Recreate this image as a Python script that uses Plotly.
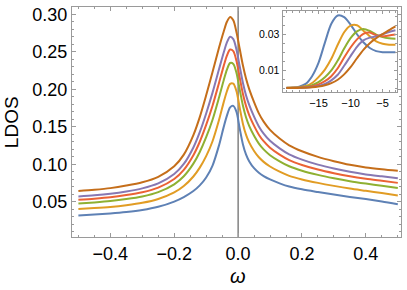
import plotly.graph_objects as go

# ---------------- data ----------------
omega = [-0.5, -0.45, -0.4, -0.35, -0.3, -0.25, -0.2, -0.17, -0.14, -0.12, -0.1, -0.08,
         -0.06, -0.045, -0.035, -0.025, -0.015, -0.005, 0.005, 0.015, 0.025, 0.035, 0.05,
         0.065, 0.08, 0.1, 0.13, 0.16, 0.2, 0.25, 0.3, 0.35, 0.4, 0.45, 0.5]

ldos_1 = [0.0320, 0.0332, 0.0346, 0.0365, 0.0392, 0.0435, 0.0505, 0.0565, 0.0645, 0.0720,
          0.0825, 0.0985, 0.1250, 0.1500, 0.1650, 0.1760, 0.1780, 0.1700, 0.1480, 0.1270,
          0.1130, 0.1040, 0.0950, 0.0890, 0.0845, 0.0800, 0.0748, 0.0705, 0.0668, 0.0632,
          0.0598, 0.0567, 0.0538, 0.0506, 0.0469]
ldos_2 = [0.0405, 0.0418, 0.0434, 0.0457, 0.0488, 0.0539, 0.0627, 0.0712, 0.0839, 0.0957,
          0.1110, 0.1309, 0.1588, 0.1830, 0.1975, 0.2073, 0.2076, 0.1976, 0.1756, 0.1543,
          0.1393, 0.1290, 0.1179, 0.1095, 0.1034, 0.0972, 0.0903, 0.0848, 0.0800, 0.0754,
          0.0714, 0.0678, 0.0648, 0.0618, 0.0585]
ldos_3 = [0.0479, 0.0494, 0.0512, 0.0538, 0.0573, 0.0631, 0.0735, 0.0842, 0.1010, 0.1166,
          0.1362, 0.1595, 0.1887, 0.2122, 0.2263, 0.2351, 0.2339, 0.2219, 0.1999, 0.1785,
          0.1625, 0.1510, 0.1381, 0.1277, 0.1200, 0.1123, 0.1041, 0.0975, 0.0916, 0.0861,
          0.0816, 0.0777, 0.0745, 0.0716, 0.0687]
ldos_4 = [0.0528, 0.0543, 0.0562, 0.0591, 0.0629, 0.0691, 0.0806, 0.0927, 0.1122, 0.1302,
          0.1526, 0.1782, 0.2082, 0.2313, 0.2450, 0.2531, 0.2510, 0.2378, 0.2158, 0.1942,
          0.1776, 0.1654, 0.1513, 0.1396, 0.1309, 0.1222, 0.1130, 0.1057, 0.0993, 0.0932,
          0.0883, 0.0841, 0.0808, 0.0781, 0.0754]
ldos_5 = [0.0574, 0.0589, 0.0610, 0.0640, 0.0681, 0.0747, 0.0872, 0.1006, 0.1226, 0.1430,
          0.1679, 0.1956, 0.2264, 0.2491, 0.2625, 0.2700, 0.2669, 0.2527, 0.2307, 0.2089,
          0.1918, 0.1789, 0.1636, 0.1506, 0.1411, 0.1315, 0.1214, 0.1134, 0.1064, 0.0997,
          0.0945, 0.0901, 0.0867, 0.0841, 0.0816]
ldos_6 = [0.0645, 0.0662, 0.0684, 0.0718, 0.0762, 0.0835, 0.0975, 0.1130, 0.1390, 0.1630,
          0.1920, 0.2230, 0.2550, 0.2770, 0.2900, 0.2965, 0.2920, 0.2760, 0.2540, 0.2320,
          0.2140, 0.2000, 0.1830, 0.1680, 0.1570, 0.1460, 0.1345, 0.1255, 0.1175, 0.1100,
          0.1043, 0.0995, 0.0960, 0.0935, 0.0914]

inset_x = [-20, -19, -18, -17, -16, -15, -14, -13, -12, -11, -10, -9, -8, -7, -6, -5, -4, -3]
inset_1 = [0.0003, 0.0005, 0.0010, 0.0025, 0.0068, 0.0142, 0.0255, 0.0360, 0.0406, 0.0397,
           0.0356, 0.0302, 0.0257, 0.0225, 0.0208, 0.0202, 0.0201, 0.0202]
inset_2 = [0.0003, 0.0004, 0.0007, 0.0013, 0.0030, 0.0063, 0.0105, 0.0165, 0.0243, 0.0313,
           0.0350, 0.0352, 0.0322, 0.0290, 0.0262, 0.0249, 0.0244, 0.0243]
inset_3 = [0.0002, 0.0003, 0.0005, 0.0009, 0.0018, 0.0035, 0.0062, 0.0100, 0.0155, 0.0222,
           0.0280, 0.0318, 0.0331, 0.0320, 0.0300, 0.0286, 0.0279, 0.0277]
inset_4 = [0.0002, 0.0003, 0.0004, 0.0007, 0.0012, 0.0022, 0.0040, 0.0068, 0.0112, 0.0172,
           0.0228, 0.0273, 0.0304, 0.0311, 0.0296, 0.0291, 0.0295, 0.0300]
inset_5 = [0.0002, 0.0002, 0.0003, 0.0005, 0.0008, 0.0014, 0.0025, 0.0045, 0.0076, 0.0126,
           0.0180, 0.0232, 0.0268, 0.0283, 0.0290, 0.0302, 0.0314, 0.0324]
inset_6 = [0.0002, 0.0002, 0.0003, 0.0004, 0.0006, 0.0010, 0.0017, 0.0029, 0.0048, 0.0078,
           0.0118, 0.0168, 0.0215, 0.0252, 0.0280, 0.0303, 0.0325, 0.0346]

main_series = [ldos_1, ldos_2, ldos_3, ldos_4, ldos_5, ldos_6]
inset_series = [inset_1, inset_2, inset_3, inset_4, inset_5, inset_6]
colors = ["#5E81B5", "#E19C24", "#8FB032", "#EB6235", "#8778B3", "#C56E1A"]

x_ticks = [-0.4, -0.2, 0.0, 0.2, 0.4]
x_tick_text = ["\u22120.4", "\u22120.2", "0.0", "0.2", "0.4"]
y_ticks = [0.05, 0.10, 0.15, 0.20, 0.25, 0.30]
y_tick_text = ["0.05", "0.10", "0.15", "0.20", "0.25", "0.30"]
inset_x_ticks = [-15, -10, -5]
inset_x_text = ["\u221215", "\u221210", "\u22125"]
inset_y_ticks = [0.01, 0.03]
inset_y_text = ["0.01", "0.03"]

# ---------------- figure ----------------
fig = go.Figure()
for ys, c in zip(main_series, colors):
    fig.add_trace(go.Scatter(x=omega, y=ys, mode="lines", line=dict(color=c, width=2, shape="spline", smoothing=0.8),
                             xaxis="x", yaxis="y", showlegend=False, hoverinfo="skip"))
for ys, c in zip(inset_series, colors):
    fig.add_trace(go.Scatter(x=inset_x, y=ys, mode="lines", line=dict(color=c, width=2, shape="spline", smoothing=0.8),
                             xaxis="x2", yaxis="y2", showlegend=False, hoverinfo="skip"))

frame = "#9a9a9a"
font = "Liberation Sans, Arial, sans-serif"
common = dict(showline=True, linecolor=frame, linewidth=1, mirror="ticks", ticks="inside",
              tickcolor=frame, showgrid=False, zeroline=False)

fig.update_layout(
    width=407, height=290,
    margin=dict(l=72, r=6, t=5, b=53),
    paper_bgcolor="white", plot_bgcolor="white",
    font=dict(family=font, color="black"),
    xaxis=dict(range=[-0.52, 0.51], tickvals=x_ticks, ticktext=x_tick_text, ticklen=4,
               tickfont=dict(size=18),
               minor=dict(dtick=0.05, tick0=0, ticks="inside", ticklen=2, tickcolor=frame),
               **common),
    yaxis=dict(range=[0.0033, 0.3097], tickvals=y_ticks, ticktext=y_tick_text, ticklen=4,
               tickfont=dict(size=18),
               minor=dict(dtick=0.01, tick0=0, ticks="inside", ticklen=2, tickcolor=frame),
               **common),
    xaxis2=dict(domain=[0.640, 0.989], anchor="y2", range=[-20.6, -2.7],
                tickvals=inset_x_ticks, ticktext=inset_x_text, ticklen=3,
                tickfont=dict(size=11),
                minor=dict(dtick=1, tick0=0, ticks="inside", ticklen=2, tickcolor=frame),
                **common),
    yaxis2=dict(domain=[0.629, 0.983], anchor="x2", range=[-0.0022, 0.0432],
                tickvals=inset_y_ticks, ticktext=inset_y_text, ticklen=3,
                tickfont=dict(size=10.5),
                minor=dict(dtick=0.005, tick0=0, ticks="inside", ticklen=2, tickcolor=frame),
                **common),
    shapes=[dict(type="line", xref="x", yref="y domain", x0=0, x1=0, y0=0, y1=1,
                 line=dict(color="#444444", width=1), layer="below")],
    annotations=[
        dict(text="LDOS", xref="paper", yref="paper", x=-0.185, y=0.5, textangle=-90,
             showarrow=False, font=dict(size=19), xanchor="center", yanchor="middle"),
        dict(text="<i>\u03c9</i>", xref="x", yref="paper", x=0, y=-0.168,
             showarrow=False, font=dict(size=20), xanchor="center", yanchor="middle"),
    ],
)

fig.write_html("out.html", config={"displayModeBar": False},
               post_script="document.body.style.margin='0px';document.body.style.padding='0px';")
